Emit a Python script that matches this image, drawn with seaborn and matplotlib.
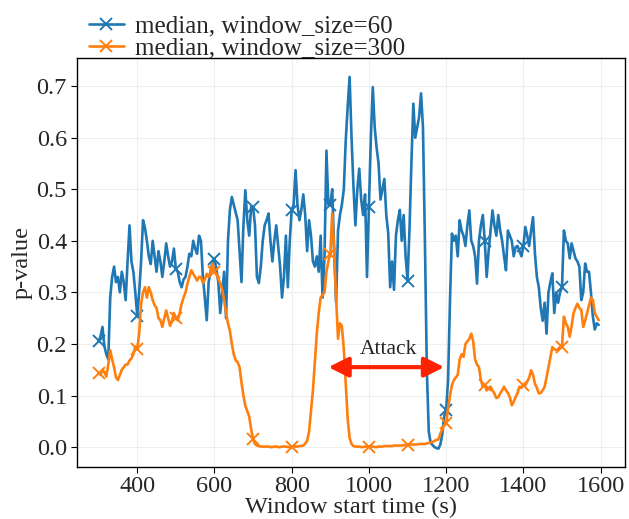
import numpy as np
import pandas as pd
import matplotlib
matplotlib.use("Agg")
import matplotlib.pyplot as plt
import seaborn as sns

# window start times (s), 5 s sampling grid
window_start = list(range(300, 1600, 5))

median_ws60 = [
    .205, .215, .233, .195, .18, .17, .29, .33, .35, .32, .33, .30, .34, .32, .285, .36, .43, .36, .34, .30,
    .255, .30, .36, .44, .425, .40, .37, .355, .40, .37, .34, .38, .36, .33, .36, .395, .37, .35, .36, .385,
    .345, .34, .32, .31, .325, .33, .35, .375, .37, .40, .385, .375, .41, .40, .33, .29, .246, .32, .34, .36,
    .365, .345, .32, .26, .30, .34, .25, .40, .46, .485, .47, .455, .44, .38, .32, .43, .498, .44, .41, .466,
    .465, .43, .33, .318, .35, .40, .43, .44, .453, .40, .36, .40, .43, .39, .35, .29, .33, .41, .31, .40,
    .46, .47, .537, .47, .44, .46, .49, .45, .38, .44, .41, .36, .35, .37, .34, .41, .29, .37, .575, .47,
    .47, .50, .38, .28, .42, .45, .47, .50, .595, .66, .718, .60, .505, .43, .50, .54, .48, .45, .49, .33,
    .465, .60, .698, .62, .58, .55, .48, .50, .52, .45, .415, .31, .36, .305, .41, .44, .46, .40, .45, .37,
    .323, .42, .55, .666, .60, .62, .64, .686, .62, .40, .15, .03, .008, .004, .0, -.002, -.003, .005, .025, .06,
    .072, .13, .285, .414, .40, .41, .37, .44, .42, .41, .39, .43, .459, .40, .39, .37, .317, .40, .43, .45,
    .40, .33, .38, .42, .459, .43, .41, .45, .42, .40, .37, .343, .42, .41, .40, .37, .388, .39, .38, .37,
    .39, .427, .41, .39, .42, .446, .375, .33, .31, .27, .245, .28, .22, .30, .32, .337, .26, .30, .28, .30,
    .31, .42, .40, .395, .366, .395, .38, .366, .36, .35, .285, .30, .356, .34, .34, .30, .253, .228, .24, .237,
]

median_ws300 = [
    .143, .14, .15, .145, .137, .16, .188, .17, .155, .135, .13, .14, .15, .155, .16, .16, .168, .172, .18, .195,
    .19, .22, .278, .30, .31, .29, .31, .30, .285, .275, .27, .25, .246, .233, .25, .265, .25, .235, .245, .26,
    .25, .246, .26, .278, .29, .30, .317, .33, .343, .336, .33, .323, .33, .33, .318, .325, .336, .33, .34, .356,
    .34, .336, .325, .318, .305, .285, .26, .24, .225, .20, .18, .168, .165, .155, .125, .10, .08, .07, .059, .035,
    .015, .006, .003, .002, .001, .001, .001, .001, .001, .0, .0, .001, .001, .0, .0, .001, .001, .001, .0, .0,
    .001, .001, .001, .001, .002, .002, .003, .007, .012, .03, .07, .11, .165, .22, .26, .29, .295, .30, .34, .36,
    .375, .453, .38, .29, .21, .24, .235, .19, .123, .055, .018, .006, .002, .001, .001, .001, .0, .0, .001, .001,
    .001, .001, .001, .0, .0, .001, .001, .001, .002, .002, .002, .002, .002, .003, .003, .003, .003, .003, .004, .004,
    .004, .005, .005, .005, .005, .005, .006, .006, .006, .006, .007, .008, .009, .01, .012, .014, .015, .026, .035, .042,
    .046, .075, .10, .12, .13, .135, .14, .17, .18, .175, .20, .205, .21, .22, .205, .17, .16, .155, .13, .117,
    .12, .11, .115, .117, .11, .104, .095, .097, .104, .11, .117, .11, .105, .097, .081, .088, .097, .105, .117, .115,
    .12, .12, .127, .135, .149, .14, .123, .115, .104, .105, .11, .117, .135, .155, .175, .194, .19, .188, .19, .194,
    .195, .253, .24, .233, .214, .235, .26, .27, .278, .27, .266, .233, .245, .26, .275, .29, .285, .26, .253, .246,
]

series_labels = ["median, window_size=60", "median, window_size=300"]
series_colors = ["#1f77b4", "#ff7f0e"]
x_ticks = [400, 600, 800, 1000, 1200, 1400, 1600]
y_ticks = [0.0, 0.1, 0.2, 0.3, 0.4, 0.5, 0.6, 0.7]
attack_span = [895, 1195]
attack_level = 0.155

sns.set_style("ticks")
plt.rcParams["font.family"] = ["Liberation Serif", "DejaVu Serif"]

df = pd.DataFrame({"t": window_start, "w60": median_ws60, "w300": median_ws300})

fig = plt.figure(figsize=(6.29, 5.19), dpi=100)
ax = fig.add_axes([0.1218, 0.1008, 0.8711, 0.7869])

for col, lab, c in zip(["w60", "w300"], series_labels, series_colors):
    sns.lineplot(data=df, x="t", y=col, ax=ax, color=c, lw=1.9,
                 marker="x", markersize=9, markeredgewidth=1.4,
                 markeredgecolor=c, markerfacecolor=c, markevery=20,
                 label=lab, zorder=3)

ax.annotate("", xy=(attack_span[1], attack_level), xytext=(attack_span[0], attack_level),
            arrowprops=dict(arrowstyle="<|-|>,head_length=0.4,head_width=0.2",
                            color="#ff2200", lw=3, mutation_scale=30,
                            shrinkA=0, shrinkB=0), zorder=5)
ax.text(1050, 0.19, "Attack", ha="center", va="center", fontsize=15.5, zorder=6)

ax.set_xlim(243, 1662)
ax.set_ylim(-0.038, 0.754)
ax.set_xticks(x_ticks)
ax.set_yticks(y_ticks)
ax.set_yticklabels([f"{v:.1f}" for v in y_ticks])
ax.tick_params(axis="both", labelsize=17.5, direction="out", length=4.5, width=0.8,
               color="black", pad=2.5)
ax.grid(True, color="#eeeeee", lw=0.8, zorder=0)
ax.set_axisbelow(True)
for s in ax.spines.values():
    s.set_color("black")
    s.set_linewidth(1.0)

ax.set_xlabel("Window start time (s)", fontsize=17.5, labelpad=-0.5)
ax.set_ylabel("p-value", fontsize=17.5, labelpad=3)

ax.legend(loc="lower left", bbox_to_anchor=(0.018, 0.99), frameon=False, fontsize=18,
          handlelength=1.4, handletextpad=0.45, labelspacing=0.0,
          borderaxespad=0, borderpad=0.1)

fig.savefig("out.png", dpi=100)
